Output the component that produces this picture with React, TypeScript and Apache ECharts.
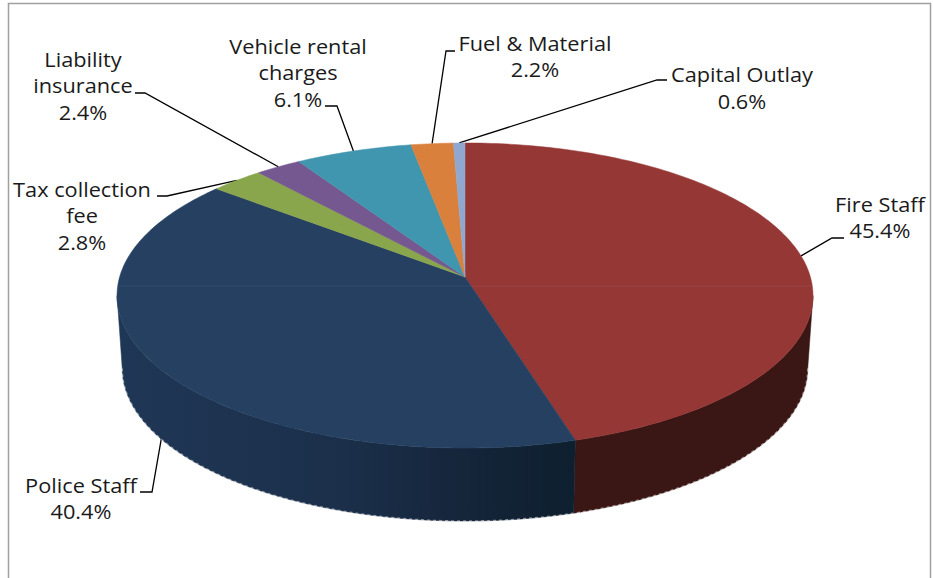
import React, { useEffect, useRef } from "react";
import * as echarts from "echarts";

const sliceNames = ["Fire Staff", "Police Staff", "Tax collection\nfee", "Liability\ninsurance", "Vehicle rental\ncharges", "Fuel & Material", "Capital Outlay"];
const sliceValues = [45.4, 40.4, 2.8, 2.4, 6.1, 2.2, 0.6];
const sliceColors = ["#953735", "#254061", "#8AA64D", "#74588F", "#4096AE", "#D8803C", "#90A8D0"];

// label centre and leader elbow, in page pixels (layout only)
const labelBoxes = [
  { cx: 880, cy: 217.5, from: [844, 238], elbow: [832, 238], lower: false },
  { cx: 81, cy: 498.5, from: [140, 492], elbow: [152, 492], lower: true },
  { cx: 82, cy: 215.5, from: [157, 196], elbow: [167, 196], lower: false },
  { cx: 83, cy: 85.5, from: [135, 93], elbow: [145, 93], lower: false },
  { cx: 298, cy: 72.5, from: [325, 106], elbow: [337, 106], lower: false },
  { cx: 535, cy: 56.5, from: [455, 51], elbow: [446, 51], lower: false },
  { cx: 742, cy: 88, from: [667, 80], elbow: [657, 80], lower: false },
];

const CX = 465;
const APEX_Y = 277;
const RX = 345.4;
const RY = 150.3;
const K = 0.1213;
const TOP_MID_Y = 295;
const LOW_MID_Y = 368;
const LOW_SCALE = 0.985;
const SIDE_FROM = 97;
const SIDE_TO = 263;

const total = sliceValues.reduce((a, b) => a + b, 0);
const starts: number[] = [];
sliceValues.reduce((acc, v, i) => {
  starts[i] = acc;
  return acc + v;
}, 0);
const deg = (v: number) => (v / total) * 360;

function rim(a: number): [number, number] {
  const r = (a * Math.PI) / 180;
  const u = Math.sin(r);
  const v = -Math.cos(r);
  const d = 1 - K * v;
  return [CX + (RX * u) / d, APEX_Y + (RY * v) / d];
}
function low(a: number): [number, number] {
  const [x, y] = rim(a);
  return [CX + (x - CX) * LOW_SCALE, LOW_MID_Y + (y - TOP_MID_Y)];
}
function arc(f: (a: number) => [number, number], a0: number, a1: number) {
  const n = Math.max(2, Math.ceil(a1 - a0));
  const pts: [number, number][] = [];
  for (let i = 0; i <= n; i++) pts.push(f(a0 + ((a1 - a0) * i) / n));
  return pts;
}

function sideFill(i: number) {
  if (i === 1) {
    return new echarts.graphic.LinearGradient(
      116, 0, 573, 0,
      [
        { offset: 0, color: "#1F3756" },
        { offset: 0.5, color: "#1B2F4A" },
        { offset: 0.8, color: "#142438" },
        { offset: 1, color: "#0E1F2F" },
      ],
      true
    );
  }
  return "#3A1714";
}

function renderSlice(params: any) {
  const i = params.dataIndex;
  const a0 = deg(starts[i]);
  const a1 = a0 + deg(sliceValues[i]);
  const children: any[] = [];
  const s0 = Math.max(a0, SIDE_FROM);
  const s1 = Math.min(a1, SIDE_TO);
  if (s1 > s0) {
    const fill = sideFill(i);
    const bottom = arc(low, s0, s1);
    children.push({
      type: "polygon",
      shape: { points: [...arc(rim, s0, s1), ...bottom.slice().reverse()] },
      style: { fill, stroke: fill, lineWidth: 0.5 },
    });
    children.push({
      type: "polyline",
      shape: { points: bottom },
      style: { fill: "none", stroke: "rgba(255,255,255,0.45)", lineWidth: 1.5, lineDash: [3, 3] },
    });
  }
  children.push({
    type: "polygon",
    shape: { points: [[CX, APEX_Y], ...arc(rim, a0, a1)] },
    style: { fill: sliceColors[i], stroke: sliceColors[i], lineWidth: 0.5 },
  });
  return { type: "group", children };
}

function renderLabel(params: any) {
  const i = params.dataIndex;
  const box = labelBoxes[i];
  const mid = deg(starts[i]) + deg(sliceValues[i]) / 2;
  const end = box.lower ? low(mid) : rim(mid);
  return {
    type: "group",
    children: [
      {
        type: "polyline",
        shape: { points: [box.from, box.elbow, end] },
        style: { fill: "none", stroke: "#000", lineWidth: 1.3 },
      },
      {
        type: "text",
        x: box.cx,
        y: box.cy,
        scaleX: 1.11,
        style: {
          x: 0,
          y: 0,
          text: `${sliceNames[i]}\n${sliceValues[i].toFixed(1)}%`,
          align: "center",
          verticalAlign: "middle",
          fontFamily: "Open Sans",
          fontSize: 19.6,
          lineHeight: 26.5,
          fill: "#1a1a1a",
        },
      },
    ],
  };
}

export default function App() {
  const ref = useRef<HTMLDivElement>(null);
  useEffect(() => {
    const chart = echarts.init(ref.current!, undefined, { renderer: "svg" });
    const rows = sliceValues.map((v, i) => ({ name: sliceNames[i], value: v }));
    chart.setOption({
      animation: false,
      backgroundColor: "#fff",
      graphic: [
        {
          type: "polyline",
          silent: true,
          shape: { points: [[8.5, 578], [8.5, 3.5], [930.5, 3.5], [930.5, 578]] },
          style: { fill: "none", stroke: "#A0A0A0", lineWidth: 1.5 },
        },
        {
          type: "line",
          silent: true,
          z: 10,
          shape: { x1: 117, y1: 286, x2: 813, y2: 286 },
          style: { stroke: "rgba(255,255,255,0.06)", lineWidth: 1 },
        },
      ],
      series: [
        { type: "custom", coordinateSystem: "none", z: 2, silent: true, clip: false, data: rows, renderItem: renderLabel },
        { type: "custom", coordinateSystem: "none", z: 3, silent: true, clip: false, data: rows, renderItem: renderSlice },
      ],
    });
    return () => chart.dispose();
  }, []);
  return <div ref={ref} style={{ position: "absolute", left: 0, top: 0, width: 933, height: 578 }} />;
}
